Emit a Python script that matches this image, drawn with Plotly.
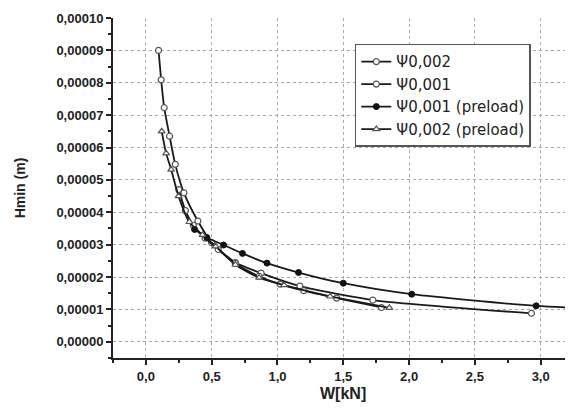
import plotly.graph_objects as go

# psi 0,002
w_a = [0.096, 0.116, 0.139, 0.18, 0.223, 0.289, 0.395, 0.50, 0.68, 0.876, 1.17, 1.725, 2.93]
h_a = [9.0e-5, 8.09e-5, 7.23e-5, 6.35e-5, 5.48e-5, 4.6e-5, 3.73e-5, 3.06e-5, 2.45e-5, 2.12e-5, 1.72e-5, 1.29e-5, 0.88e-5]
# psi 0,001
w_b = [0.25, 0.30, 0.36, 0.45, 0.55, 0.68, 0.86, 1.02, 1.2, 1.45, 1.79]
h_b = [4.7e-5, 4.05e-5, 3.6e-5, 3.2e-5, 2.85e-5, 2.42e-5, 2.02e-5, 1.78e-5, 1.58e-5, 1.35e-5, 1.06e-5]
# psi 0,001 preload
w_c = [0.37, 0.463, 0.59, 0.734, 0.92, 1.16, 1.5, 2.02, 2.966, 4.0]
h_c = [3.47e-5, 3.22e-5, 2.99e-5, 2.73e-5, 2.43e-5, 2.14e-5, 1.81e-5, 1.47e-5, 1.11e-5, 0.95e-5]
# psi 0,002 preload
w_d = [0.12, 0.154, 0.192, 0.248, 0.33, 0.43, 0.53, 0.68, 0.86, 1.05, 1.4, 1.85]
h_d = [6.5e-5, 5.82e-5, 5.32e-5, 4.5e-5, 3.7e-5, 3.3e-5, 2.95e-5, 2.38e-5, 1.98e-5, 1.75e-5, 1.4e-5, 1.05e-5]

names = ["Ψ0,002", "Ψ0,001", "Ψ0,001 (preload)", "Ψ0,002 (preload)"]
x_title = "W[kN]"
y_title = "Hmin (m)"

fig = go.Figure()
line = dict(color="#1a1a1a", width=1.8, shape="spline", smoothing=0.6)
open_marker = dict(symbol="circle", size=6, color="white", line=dict(color="#555", width=1.2))
fig.add_trace(go.Scatter(x=w_a, y=h_a, name=names[0], mode="lines+markers", line=line, marker=open_marker))
fig.add_trace(go.Scatter(x=w_b, y=h_b, name=names[1], mode="lines+markers", line=line, marker=open_marker))
fig.add_trace(go.Scatter(x=w_c, y=h_c, name=names[2], mode="lines+markers", line=line,
                         marker=dict(symbol="circle", size=6, color="#111", line=dict(color="#111", width=1))))
fig.add_trace(go.Scatter(x=w_d, y=h_d, name=names[3], mode="lines+markers", line=line,
                         marker=dict(symbol="triangle-up", size=6, color="white", line=dict(color="#555", width=1.2))))

tick_font = dict(family="Liberation Sans", size=13, color="#222", weight="bold")
axis_common = dict(
    showline=True, linecolor="#222", linewidth=2, mirror=False,
    ticks="outside", ticklen=5, tickwidth=1.5, tickcolor="#222",
    showgrid=True, gridcolor="#aaa", griddash="dot", gridwidth=1,
    zeroline=False, automargin=False,
    tickfont=tick_font,
)
fig.update_xaxes(**axis_common, range=[-0.25, 3.185], dtick=0.5, tick0=0, tickformat=".1f",
                 minor=dict(ticks="outside", ticklen=3, tickcolor="#222", dtick=0.25, tick0=0.25, showgrid=False))
fig.update_yaxes(**axis_common, range=[-0.000005, 0.0001], dtick=0.00001, tick0=0, tickformat=".5f",
                 minor=dict(ticks="outside", ticklen=3, tickcolor="#222", dtick=0.000005, tick0=0.000005, showgrid=False),
                 title=dict(text=y_title, font=dict(family="Liberation Sans", size=14, color="#222", weight="bold"), standoff=28))

fig.add_annotation(text=x_title, xref="paper", yref="paper", x=0.509, y=0, yshift=-35,
                   xanchor="center", yanchor="middle", showarrow=False,
                   font=dict(family="Liberation Sans", size=16, color="#222", weight="bold"))

fig.update_layout(
    width=557, height=396,
    margin=dict(l=105, r=0, t=10, b=46),
    plot_bgcolor="white", paper_bgcolor="white",
    separators=",.",
    showlegend=True,
    legend=dict(x=0.535, y=0.924, xanchor="left", yanchor="top",
                bordercolor="#555", borderwidth=1.5, bgcolor="white",
                font=dict(family="DejaVu Sans", size=15, color="#222"),
                tracegroupgap=0),
)
fig.write_html("out.html")
